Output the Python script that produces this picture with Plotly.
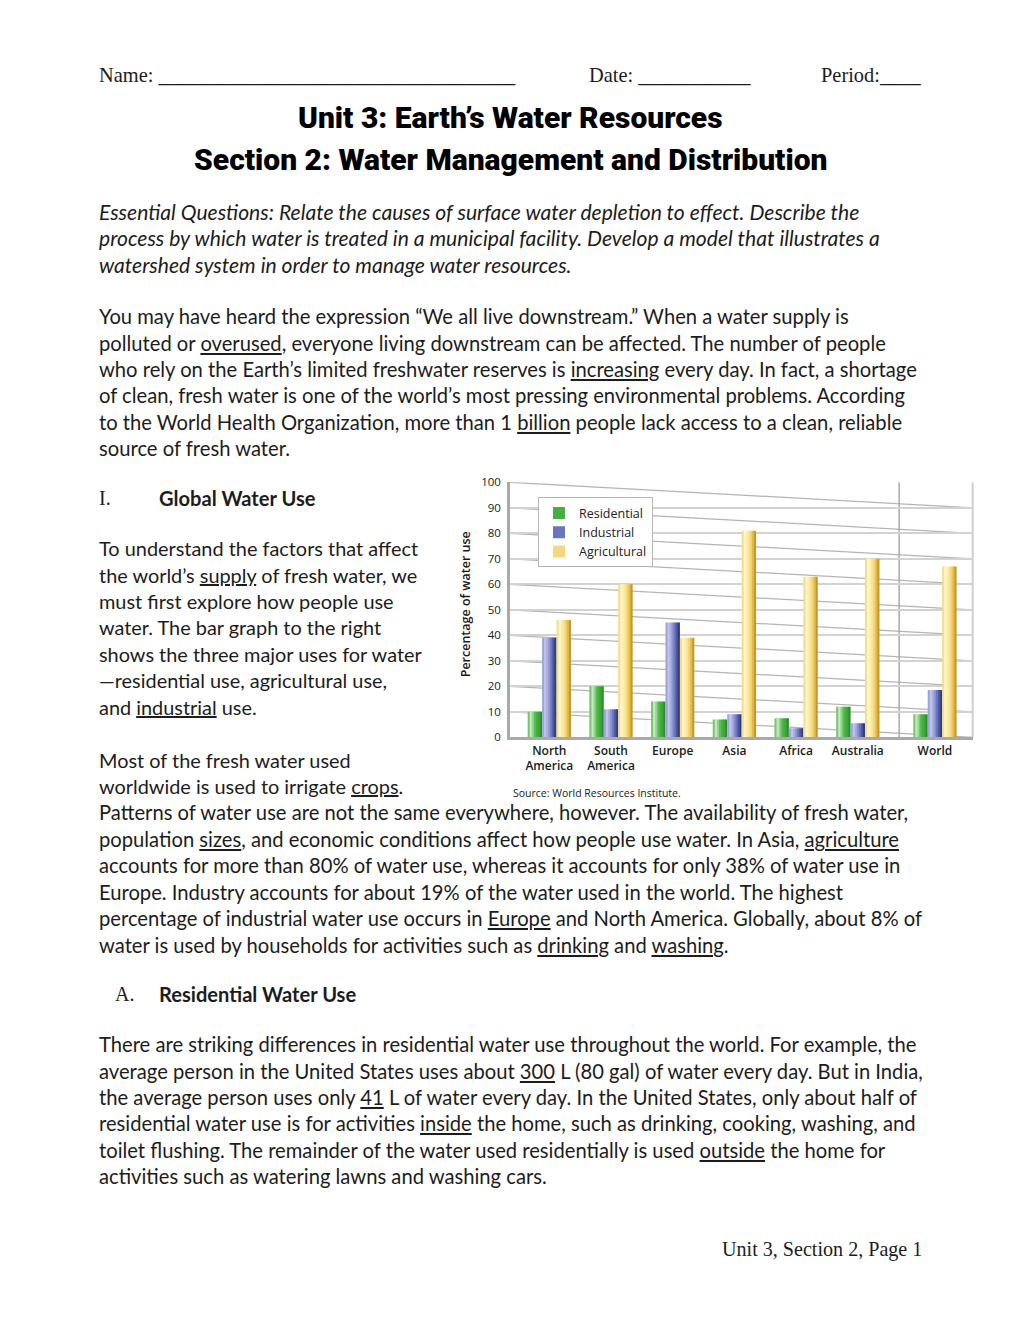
import plotly.graph_objects as go

# ---------------- data ----------------
regions = ["North<br>America", "South<br>America", "Europe", "Asia", "Africa", "Australia", "World"]
residential = [10, 20, 14, 7, 7.5, 12, 9]
industrial = [39, 11, 45, 9, 3.5, 5.5, 18.5]
agricultural = [46, 60, 39, 81, 63, 70, 67]
series_names = ["Residential", "Industrial", "Agricultural"]
y_ticks = [0, 10, 20, 30, 40, 50, 60, 70, 80, 90, 100]

# ---------------- layout helpers ----------------
OFF = 8                 # default body margin of the page
W, H = 1004, 1304
SY, BY = 0.9885, 7.8    # observed vertical mapping of the photographed page
def px(x):
    return (x - OFF) / W
def py(y):
    ya = (y - BY) / SY
    return 1 - (ya - OFF) / H

group_pos = [0, 1, 2, 3, 4, 5, 6.25]
separator_x = 5.67
x_range = [-0.637, 6.862]
bar_w = 0.234

strip_colors = {
    "Residential": ["#7cc474", "#c5e8be", "#9ad492", "#5cbc55", "#45b040", "#3aa635", "#2c8f2a"],
    "Industrial": ["#9ea4d8", "#c0c4ec", "#a9aee0", "#8c93cf", "#6b75bb", "#4c58a2", "#2f3c84"],
    "Agricultural": ["#f6dc8c", "#fff6cc", "#fdeeb0", "#fbe394", "#f2d276", "#e2ba4c", "#c59a24"],
}
legend_colors = {"Residential": "#45b040", "Industrial": "#6b75bb", "Agricultural": "#f6d67e"}

fig = go.Figure()
values = [residential, industrial, agricultural]
for si, (name, vals) in enumerate(zip(series_names, values)):
    cols = strip_colors[name]
    n = len(cols)
    sw = bar_w / n
    base = (si - 1.5) * bar_w
    for k, c in enumerate(cols):
        fig.add_trace(go.Bar(
            x=group_pos, y=vals, name=name,
            width=sw * (1.3 if k < n - 1 else 1.0),
            offset=base + k * sw,
            marker=dict(color=c, line=dict(width=0)),
            showlegend=False, hoverinfo="skip" if k != 3 else None,
        ))
    fig.add_trace(go.Bar(
        x=[group_pos[0]], y=[None], name=name,
        marker=dict(color=legend_colors[name], line=dict(width=0)),
        showlegend=True,
    ))

chart_font = "Open Sans, Noto Sans, sans-serif"

fig.update_layout(
    width=W, height=H,
    margin=dict(l=0, r=0, t=0, b=0),
    paper_bgcolor="white", plot_bgcolor="white",
    barmode="overlay",
    showlegend=True,
    legend=dict(
        x=px(538), y=py(497), xanchor="left", yanchor="top",
        bgcolor="white", bordercolor="#b5b5b5", borderwidth=1,
        font=dict(family=chart_font, size=12.5, color="#222"),
        tracegroupgap=0, itemwidth=30,
    ),
    xaxis=dict(
        domain=[px(510), px(972.7)], range=x_range,
        tickvals=group_pos, ticktext=regions,
        tickfont=dict(family=chart_font, size=12, color="#1a1a1a", weight=600),
        showgrid=False, zeroline=False,
        showline=True, linecolor="#a9a9a9", linewidth=3,
        ticks="", fixedrange=True,
    ),
    yaxis=dict(
        domain=[py(737), py(482)], range=[0, 100],
        tickvals=y_ticks,
        tickfont=dict(family=chart_font, size=11.5, color="#1a1a1a"),
        showgrid=True, gridcolor="#d2d2d2", gridwidth=2,
        zeroline=False, showline=True, linecolor="#a9a9a9", linewidth=2.5,
        ticks="", ticklabelstandoff=4, fixedrange=True,
    ),
)

shapes = []
for v in y_ticks[1:]:
    shapes.append(dict(type="line", xref="x", yref="y", x0=x_range[0], y0=v,
                       x1=x_range[1], y1=v - 10, layer="below",
                       line=dict(color="#b4b4b4", width=1.2)))
shapes.append(dict(type="line", xref="x", yref="y", x0=separator_x, y0=0,
                   x1=separator_x, y1=100, layer="below",
                   line=dict(color="#a8a8a8", width=1.5)))
shapes.append(dict(type="line", xref="x domain", yref="y", x0=1, y0=0, x1=1, y1=100,
                   layer="below", line=dict(color="#cfcfcf", width=2)))
fig.update_layout(shapes=shapes)

# ---------------- page text ----------------
body_font = "Lato, Open Sans, sans-serif"
serif_font = "Liberation Serif, DejaVu Serif, serif"
title_font = "Roboto, Noto Sans, sans-serif"
ann = []

def txt(x, y, s, size=20.2, family=body_font, anchor="left", color="#1c1c1c", weight=None, style=None, angle=0):
    f = dict(family=family, size=size, color=color)
    if weight:
        f["weight"] = weight
    if style:
        f["style"] = style
    ann.append(dict(x=px(x), y=py(y), xref="paper", yref="paper", text=s,
                    showarrow=False, xanchor=anchor, yanchor="middle",
                    font=f, textangle=angle, align="left"))

txt(97, 75, "Name: " + "_" * 35, size=20.4, family=serif_font)
txt(587, 75, "Date: " + "_" * 11, size=20.4, family=serif_font)
txt(819, 75, "Period:" + "_" * 4, size=20.4, family=serif_font)

txt(510, 117, "Unit 3: Earth’s Water Resources", size=30, family=title_font, anchor="center", color="#000", weight=900)
txt(510, 159.5, "Section 2: Water Management and Distribution", size=30, family=title_font, anchor="center", color="#000", weight=900)

eq = [
    "Essential Questions: Relate the causes of surface water depletion to effect. Describe the",
    "process by which water is treated in a municipal facility. Develop a model that illustrates a",
    "watershed system in order to manage water resources.",
]
for i, line in enumerate(eq):
    txt(97, 211 + i * 26.4, line, size=21.1, style="italic")

p1 = [
    "You may have heard the expression “We all live downstream.” When a water supply is",
    "polluted or <u>overused</u>, everyone living downstream can be affected. The number of people",
    "who rely on the Earth’s limited freshwater reserves is <u>increasing</u> every day. In fact, a shortage",
    "of clean, fresh water is one of the world’s most pressing environmental problems. According",
    "to the World Health Organization, more than 1 <u>billion</u> people lack access to a clean, reliable",
    "source of fresh water.",
]
for i, line in enumerate(p1):
    txt(97, 316 + i * 26.4, line)

txt(97, 498, "I.", size=20, family=serif_font)
txt(157, 498, "Global Water Use", size=20.1, weight="bold")

left_col = [
    "To understand the factors that affect",
    "the world’s <u>supply</u> of fresh water, we",
    "must first explore how people use",
    "water. The bar graph to the right",
    "shows the three major uses for water",
    "—residential use, agricultural use,",
    "and <u>industrial</u> use.",
]
for i, line in enumerate(left_col):
    txt(97, 548 + i * 26.4, line, size=19.9)
txt(97, 760, "Most of the fresh water used", size=19.9)
txt(97, 786, "worldwide is used to irrigate <u>crops</u>.", size=19.9)

p2 = [
    "Patterns of water use are not the same everywhere, however. The availability of fresh water,",
    "population <u>sizes</u>, and economic conditions affect how people use water. In Asia, <u>agriculture</u>",
    "accounts for more than 80% of water use, whereas it accounts for only 38% of water use in",
    "Europe. Industry accounts for about 19% of the water used in the world. The highest",
    "percentage of industrial water use occurs in <u>Europe</u> and North America. Globally, about 8% of",
    "water is used by households for activities such as <u>drinking</u> and <u>washing</u>.",
]
for i, line in enumerate(p2):
    txt(97, 812 + i * 26.5, line)

txt(113, 994, "A.", size=20, family=serif_font)
txt(157, 994, "Residential Water Use", size=20.1, weight="bold")

p3 = [
    "There are striking differences in residential water use throughout the world. For example, the",
    "average person in the United States uses about <u>300</u> L (80 gal) of water every day. But in India,",
    "the average person uses only <u>41</u> L of water every day. In the United States, only about half of",
    "residential water use is for activities <u>inside</u> the home, such as drinking, cooking, washing, and",
    "toilet flushing. The remainder of the water used residentially is used <u>outside</u> the home for",
    "activities such as watering lawns and washing cars.",
]
for i, line in enumerate(p3):
    txt(97, 1044 + i * 26.4, line)

txt(924, 1249, "Unit 3, Section 2, Page 1", size=20.1, family=serif_font, anchor="right")

txt(465, 604, "Percentage of water use", size=12.5, family=chart_font, anchor="center", weight=600, angle=-90, color="#1a1a1a")
txt(511, 793, "Source: World Resources Institute.", size=10.5, family=chart_font, color="#1a1a1a")

fig.update_layout(annotations=ann)

fig.write_html("out.html", config={"displayModeBar": False})
